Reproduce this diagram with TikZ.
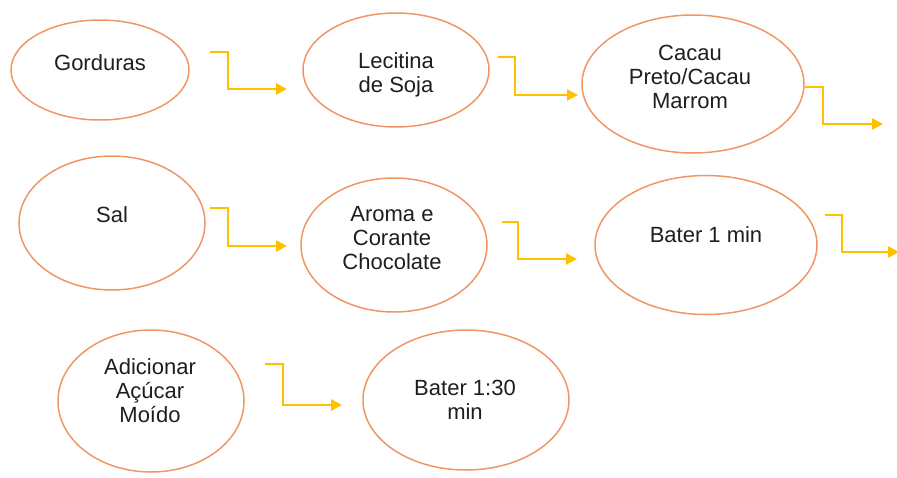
\documentclass[tikz,border=0pt]{standalone}
\usepackage{fontspec}
\setmainfont{Liberation Sans}
\usetikzlibrary{shapes.geometric,arrows.meta}

\definecolor{stageorange}{RGB}{240,150,100}
\definecolor{flowgold}{RGB}{255,192,0}
\definecolor{labelgray}{RGB}{30,30,30}

\begin{document}
\begin{tikzpicture}[x=1pt,y=-1pt]
        % Define styles
        \tikzset{
            stage/.style={ellipse, draw=stageorange, line width=1.5pt, inner sep=0pt},
            stagetext/.style={align=center, inner sep=0pt, text=labelgray, font=\fontsize{22}{24}\selectfont},
            flow/.style={draw=flowgold, line width=2.6pt, -{Triangle[length=11pt,width=11pt]}}
        }
        \useasboundingbox (0,0) rectangle (897,477);

        % Nodes
        \node[stage, minimum width=178pt, minimum height=100pt] (stage_node_1) at (100,70) {};
        \node[stagetext] (label_node_1) at (100,63) {Gorduras};
        \node[stage, minimum width=186pt, minimum height=114pt] (stage_node_2) at (396,70) {};
        \node[stagetext] (label_node_2) at (396,75) {Lecitina\\de Soja};
        \node[stage, minimum width=222pt, minimum height=138pt] (stage_node_3) at (693,84) {};
        \node[stagetext] (label_node_3) at (690,77) {Cacau\\Preto/Cacau\\Marrom};

        \node[stage, minimum width=186pt, minimum height=134pt] (stage_node_4) at (112,223) {};
        \node[stagetext] (label_node_4) at (112,215) {Sal};
        \node[stage, minimum width=186pt, minimum height=134pt] (stage_node_5) at (394,245) {};
        \node[stagetext] (label_node_5) at (392,238) {Aroma e\\Corante\\Chocolate};
        \node[stage, minimum width=222pt, minimum height=139pt] (stage_node_6) at (706,245) {};
        \node[stagetext] (label_node_6) at (706,235) {Bater 1 min};

        \node[stage, minimum width=186pt, minimum height=142pt] (stage_node_7) at (151,401) {};
        \node[stagetext] (label_node_7) at (150,391) {Adicionar\\Açúcar\\Moído};
        \node[stage, minimum width=206pt, minimum height=140pt] (stage_node_8) at (466,400) {};
        \node[stagetext] (label_node_8) at (465,400) {Bater 1:30\\min};

        % Arrow ends
        \coordinate (flow_start_1) at (210,52);  \coordinate (flow_end_1) at (287,89);
        \coordinate (flow_start_2) at (498,57);  \coordinate (flow_end_2) at (578,95);
        \coordinate (flow_start_3) at (805,87);  \coordinate (flow_end_3) at (883,124);
        \coordinate (flow_start_4) at (210,208); \coordinate (flow_end_4) at (287,246);
        \coordinate (flow_start_5) at (502,222); \coordinate (flow_end_5) at (577,259);
        \coordinate (flow_start_6) at (825,215); \coordinate (flow_end_6) at (899,252);
        \coordinate (flow_start_7) at (265,364); \coordinate (flow_end_7) at (342,405);

        % Arrows
        \draw[flow] (flow_start_1) -- ++(18,0) |- (flow_end_1);
        \draw[flow] (flow_start_2) -- ++(17,0) |- (flow_end_2);
        \draw[flow] (flow_start_3) -- ++(18,0) |- (flow_end_3);
        \draw[flow] (flow_start_4) -- ++(18,0) |- (flow_end_4);
        \draw[flow] (flow_start_5) -- ++(16,0) |- (flow_end_5);
        \draw[flow] (flow_start_6) -- ++(17,0) |- (flow_end_6);
        \draw[flow] (flow_start_7) -- ++(18,0) |- (flow_end_7);
    \end{tikzpicture}
\end{document}
